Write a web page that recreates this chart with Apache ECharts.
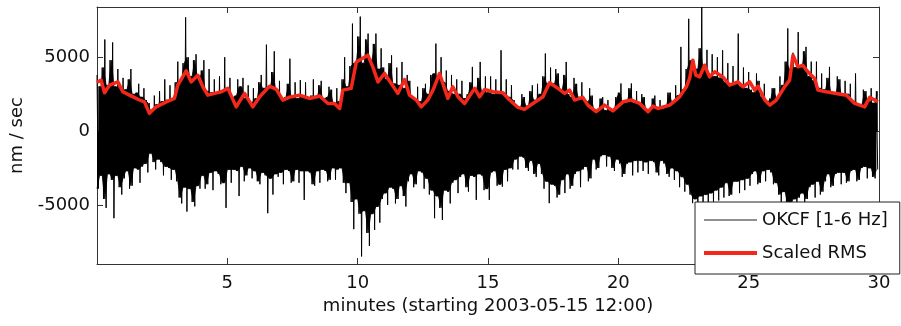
<!DOCTYPE html>
<html>
<head>
<meta charset="utf-8">
<script src="https://cdn.jsdelivr.net/npm/echarts@6/dist/echarts.min.js"></script>
<style>
  html, body { margin: 0; padding: 0; background: #fff; }
  #chart { width: 901px; height: 326px; }
</style>
</head>
<body>
<div id="chart"></div>
<script>
// OKCF seismogram, 1-6 Hz band, 30 minutes from 2003-05-15 12:00.
// Positive and negative swing amplitudes (nm/sec), one pair every 0.1 minute.
const tracePeaks = [
  3800, 3000, 4300, 6200, 3100, 4800, 6000, 3000, 4200, 2900,
  3600, 2800, 3500, 4200, 2500, 2600, 3200, 2300, 2900, 2100,
  1900, 1400, 2400, 1800, 2700, 2000, 3500, 2100, 3100, 2200,
  3300, 4700, 3400, 4600, 7700, 5000, 3700, 4800, 5200, 3600,
  4100, 4800, 2700, 4200, 2600, 3500, 2600, 3700, 2700, 5000,
  2800, 3600, 2300, 2400, 3500, 3000, 3600, 2200, 3100, 1900,
  2900, 2200, 3300, 3800, 2900, 5850, 2900, 4000, 5400, 2800,
  3400, 2200, 2300, 3200, 4900, 2300, 3300, 2200, 3450, 2400,
  3300, 2200, 2400, 3500, 2200, 3100, 3400, 2200, 2300, 3000,
  2800, 1900, 2900, 2000, 3500, 5000, 3000, 4400, 7275, 4600,
  6400, 7750, 4600, 6200, 6600, 4800, 5900, 6600, 4200, 5600,
  4300, 3500, 4600, 5130, 3200, 4300, 3100, 4680, 2900, 3800,
  3400, 2300, 2100, 3000, 2000, 2900, 3200, 2500, 3800, 3900,
  5920, 3600, 5000, 3300, 4100, 2700, 3800, 2500, 3500, 2500,
  3400, 2200, 2500, 3300, 4345, 2700, 3600, 4680, 2700, 3700,
  2600, 3700, 2500, 3500, 2600, 5470, 2600, 3500, 2300, 3100,
  2100, 1700, 1600, 2500, 2300, 1700, 2700, 3100, 2100, 3200,
  2500, 3700, 5250, 3200, 4300, 3200, 4200, 3900, 2800, 3800,
  4680, 2500, 2300, 3600, 3200, 2300, 3300, 2100, 2000, 2900,
  2400, 1500, 1400, 2200, 2300, 1400, 2100, 1400, 1500, 2300,
  2600, 3220, 1900, 2000, 2900, 3220, 1900, 2700, 1800, 2500,
  2300, 1500, 1400, 2200, 2400, 1500, 2100, 1500, 1700, 2600,
  2600, 1900, 3100, 2400, 5700, 2800, 4200, 7600, 4800, 4500,
  4200, 5600, 8400, 4100, 5500, 3800, 5200, 3700, 5000, 3600,
  5470, 3300, 4600, 3100, 4400, 3200, 6600, 3000, 4300, 2900,
  4000, 2800, 2600, 3900, 3400, 2300, 3200, 2000, 2200, 2900,
  2900, 2200, 3700, 3100, 4700, 6950, 4200, 5300, 4300, 6700,
  4300, 5400, 5700, 3700, 4700, 3400, 4700, 2900, 3900, 2800,
  3600, 4345, 2600, 2500, 3700, 3500, 2400, 3400, 2500, 3200,
  2000, 3900, 1900, 1800, 2800, 2700, 2000, 2900, 1900, 2700
];
const traceTroughs = [
  -3900, -3000, -4600, -5200, -2900, -3300, -5900, -3000, -3800, -4300,
  -3200, -2700, -3900, -3700, -2500, -2600, -3500, -2400, -2200, -2800,
  -1500, -2100, -2600, -1900, -2100, -3000, -2400, -2500, -3300, -2600,
  -3400, -4500, -4900, -3800, -5450, -3900, -4800, -5100, -3700, -3900,
  -3000, -3900, -3600, -2800, -4000, -2700, -2900, -3600, -3500, -5200,
  -2600, -3500, -2600, -2700, -4400, -2400, -3400, -3000, -2500, -3200,
  -2700, -3400, -3600, -2800, -3000, -5560, -3200, -4300, -2900, -3100,
  -2800, -3600, -2600, -2700, -3500, -3400, -2600, -3500, -2700, -4660,
  -2700, -2800, -3600, -3700, -2700, -3500, -2600, -2700, -3400, -3300,
  -2500, -3300, -2600, -2500, -3500, -4200, -3500, -4800, -6640, -4600,
  -5600, -8490, -5400, -6900, -7780, -5600, -6700, -5100, -6200, -4600,
  -4200, -5000, -3800, -3900, -4900, -4600, -3700, -4400, -5110, -3400,
  -2900, -3800, -3600, -2700, -2800, -3900, -3200, -4300, -4000, -5900,
  -4400, -5200, -6010, -4000, -4100, -4900, -3500, -3300, -4200, -3100,
  -2900, -3800, -4100, -3000, -3100, -4660, -2900, -3000, -4000, -3900,
  -4660, -2800, -2700, -3700, -3600, -3760, -2600, -3400, -2500, -2600,
  -1900, -2600, -1700, -1800, -2500, -2700, -2000, -2900, -3100, -2200,
  -2900, -3900, -3400, -4880, -3600, -3700, -4500, -4300, -3300, -4200,
  -2900, -3900, -3700, -2900, -2700, -3800, -2600, -2400, -3400, -3200,
  -1900, -2600, -2500, -1700, -1600, -2400, -1700, -2500, -2700, -1900,
  -2200, -3100, -2900, -2200, -2100, -3000, -2000, -2800, -2000, -2700,
  -2100, -2900, -2000, -2100, -2800, -3000, -2000, -2200, -2900, -3100,
  -2500, -3300, -2700, -3800, -3100, -4100, -3600, -4300, -4880, -4600,
  -5700, -4400, -5200, -4300, -5000, -4200, -4900, -4000, -4700, -3800,
  -4500, -3500, -4400, -4300, -3400, -3400, -4200, -3300, -4000, -3200,
  -3700, -2900, -2700, -3600, -3500, -2700, -3400, -2600, -2800, -3600,
  -3500, -4300, -5100, -4100, -5000, -5300, -5000, -4600, -5200, -4500,
  -4200, -4900, -4600, -3800, -3600, -4500, -3400, -4300, -4100, -3400,
  -2900, -3800, -3700, -2900, -2800, -3600, -2800, -3500, -3400, -2700,
  -2600, -3400, -3300, -2500, -2400, -3200, -2500, -3100, -3200, -2600
];
const traceStepMinutes = 0.1;

// Scaled RMS envelope (minutes, nm/sec)
const rmsMinutes = [
  0, 0.16, 0.29, 0.48, 0.8, 0.99, 1.25, 1.63, 1.82, 2.01, 2.27, 2.66, 2.97,
  3.1, 3.42, 3.61, 3.87, 4.06, 4.25, 4.51, 4.77, 5.02, 5.34, 5.66, 5.98,
  6.24, 6.62, 6.88, 7.13, 7.39, 7.77, 8.15, 8.54, 8.86, 9.11, 9.31, 9.43,
  9.75, 9.95, 10.39, 10.58, 10.78, 11.03, 11.29, 11.54, 11.8, 11.99, 12.25,
  12.44, 12.69, 12.89, 13.14, 13.33, 13.46, 13.65, 13.85, 14.1, 14.49, 14.68,
  14.87, 15.19, 15.57, 15.83, 16.15, 16.4, 16.72, 17.11, 17.36, 17.68, 17.94,
  18.13, 18.32, 18.64, 18.83, 19.15, 19.47, 19.79, 20.18, 20.5, 20.82, 21.14,
  21.33, 21.52, 21.97, 22.35, 22.61, 22.74, 22.86, 22.97, 23.12, 23.31, 23.5,
  23.7, 24.01, 24.27, 24.59, 24.78, 25.04, 25.23, 25.36, 25.62, 25.81, 26.06,
  26.38, 26.57, 26.7, 26.89, 27.08, 27.27, 27.53, 27.66, 27.98, 28.36, 28.75,
  29.07, 29.45, 29.64, 29.96
];
const rmsValues = [
  3300, 3450, 2590, 3110, 3330, 2660, 2430, 2100, 1980, 1200, 1640, 1980, 2210,
  3110, 4080, 3330, 3780, 3000, 2430, 2550, 2660, 2890, 1640, 2550, 1640,
  2320, 3040, 2820, 2100, 2300, 2430, 2210, 2370, 1870, 1870, 1530, 2770,
  2890, 4680, 5140, 4350, 3330, 3900, 3220, 2550, 3490, 2430, 2100,
  1640, 2100, 2770, 3900, 2890, 2210, 3000, 2320, 1870, 2890, 2320,
  2820, 2660, 2590, 2100, 1600, 1470, 1870, 2320, 3270, 2890, 2550,
  2770, 2100, 2280, 1760, 1310, 1760, 1370, 1980, 2100, 1870, 1310,
  1690, 1530, 1760, 2320, 3000, 3600, 4800, 3780, 3670, 4460, 3670,
  4010, 3670, 3110, 3330, 3000, 3330, 2770, 3040, 2100, 1760, 2100,
  3000, 3450, 5140, 4350, 4460, 4010, 3560, 2770, 2660, 2550, 2430,
  1870, 1640, 2280, 1980
];

// Axis ticks
const xTickLabels = [5, 10, 15, 20, 25, 30];
const yTickValues = [-5000, 0, 5000];

// Zig-zag trace: a peak, then a trough half a step later.
const traceData = [];
for (let i = 0; i < tracePeaks.length; i++) {
  const t = i * traceStepMinutes;
  traceData.push([t, tracePeaks[i]]);
  traceData.push([t + traceStepMinutes / 2, traceTroughs[i]]);
}
// Solid body of the trace: the part every neighbouring swing covers.
const bodyUpper = [];
const bodyLower = [];
for (let i = 0; i < tracePeaks.length; i++) {
  const t = i * traceStepMinutes;
  const nextPeak = i + 1 < tracePeaks.length ? tracePeaks[i + 1] : tracePeaks[i];
  const prevTrough = i > 0 ? traceTroughs[i - 1] : traceTroughs[i];
  bodyLower.push([t, Math.max(prevTrough, traceTroughs[i])]);
  bodyUpper.push([t + traceStepMinutes / 2, Math.min(tracePeaks[i], nextPeak)]);
}
const rmsData = rmsMinutes.map((m, i) => [m, rmsValues[i]]);

const FONT = 'DejaVu Sans';
const TEXT = '#111';
const FRAME = '#333';
const RED = '#f4281a';

function bodySeries(data) {
  return {
    type: 'line',
    data: data,
    symbol: 'none',
    silent: true,
    clip: true,
    lineStyle: { width: 0.8, color: '#000' },
    areaStyle: { color: '#000', opacity: 1 },
    z: 1
  };
}

const chart = echarts.init(document.getElementById('chart'), null, { renderer: 'canvas' });
chart.setOption({
  animation: false,
  backgroundColor: '#fff',
  textStyle: { fontFamily: FONT, color: TEXT },
  grid: { left: 97, right: 22, top: 7, bottom: 62, containLabel: false, outerBoundsMode: 'none' },
  legend: {
    orient: 'vertical',
    left: 695,
    top: 202,
    itemWidth: 53,
    itemHeight: 14,
    itemGap: 15,
    padding: [9, 12, 12, 9],
    borderColor: '#222',
    borderWidth: 1,
    borderRadius: 0,
    backgroundColor: '#fff',
    textStyle: { fontFamily: FONT, fontSize: 18, color: TEXT },
    data: [
      { name: 'OKCF [1-6 Hz]', icon: 'path://M0,0H530V10H0Z', itemStyle: { color: '#222' } },
      { name: 'Scaled RMS', icon: 'path://M0,0H530V38H0Z', itemStyle: { color: RED } }
    ]
  },
  xAxis: [
    {
      type: 'value', min: 0, max: 30, interval: 5,
      name: 'minutes (starting 2003-05-15 12:00)',
      nameLocation: 'middle', nameGap: 27,
      nameTextStyle: { fontFamily: FONT, fontSize: 18, color: TEXT },
      axisLine: { show: true, onZero: false, lineStyle: { color: FRAME, width: 1 } },
      axisTick: { show: true, inside: true, length: 6, lineStyle: { color: FRAME } },
      axisLabel: { show: true, margin: 10, fontFamily: FONT, fontSize: 18, color: TEXT,
        customValues: xTickLabels, formatter: v => String(v) },
      splitLine: { show: false }
    },
    {
      type: 'value', min: 0, max: 30, interval: 5, position: 'top',
      axisLine: { show: true, onZero: false, lineStyle: { color: FRAME, width: 1 } },
      axisTick: { show: true, inside: true, length: 6, lineStyle: { color: FRAME } },
      axisLabel: { show: false },
      splitLine: { show: false }
    }
  ],
  yAxis: [
    {
      type: 'value', min: -9000, max: 8400,
      name: 'nm / sec', nameLocation: 'middle', nameGap: 60, nameRotate: 90,
      nameTextStyle: { fontFamily: FONT, fontSize: 18, color: TEXT },
      axisLine: { show: true, onZero: false, lineStyle: { color: FRAME, width: 1 } },
      axisTick: { show: true, inside: true, length: 6, lineStyle: { color: FRAME },
        customValues: yTickValues },
      axisLabel: { show: true, margin: 7, fontFamily: FONT, fontSize: 18, color: TEXT,
        customValues: yTickValues, formatter: v => String(v) },
      splitLine: { show: false }
    },
    {
      type: 'value', min: -9000, max: 8400, position: 'right',
      axisLine: { show: true, onZero: false, lineStyle: { color: FRAME, width: 1 } },
      axisTick: { show: true, inside: true, length: 6, lineStyle: { color: FRAME },
        customValues: yTickValues },
      axisLabel: { show: false },
      splitLine: { show: false }
    }
  ],
  series: [
    bodySeries(bodyUpper),
    bodySeries(bodyLower),
    {
      name: 'OKCF [1-6 Hz]',
      type: 'line',
      data: traceData,
      symbol: 'none',
      sampling: null,
      silent: true,
      clip: true,
      lineStyle: { color: '#000', width: 1 },
      itemStyle: { color: '#000' },
      z: 2
    },
    {
      name: 'Scaled RMS',
      type: 'line',
      data: rmsData,
      symbol: 'none',
      silent: true,
      clip: true,
      lineStyle: { color: RED, width: 3.5, join: 'round' },
      itemStyle: { color: RED },
      z: 3
    }
  ]
});
</script>
</body>
</html>
